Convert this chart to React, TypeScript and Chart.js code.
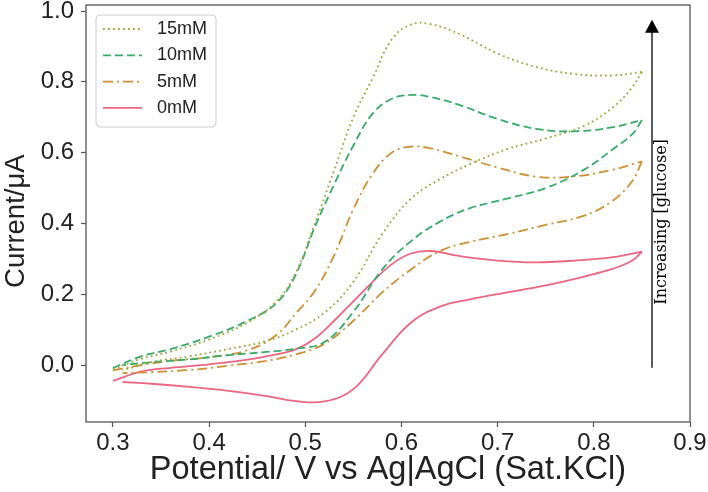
import React, { useEffect, useRef } from "react";
import { Chart, registerables } from "chart.js";

Chart.register(...registerables);

// potential grid (V) for forward and reverse scans
const fwdPotential = [0.3, 0.33, 0.36, 0.4, 0.44, 0.47, 0.49, 0.51, 0.53, 0.55, 0.57, 0.59, 0.61, 0.63, 0.66, 0.7, 0.74, 0.78, 0.82, 0.85];
const revPotential = [0.85, 0.84, 0.82, 0.79, 0.75, 0.71, 0.67, 0.64, 0.61, 0.58, 0.55, 0.52, 0.49, 0.46, 0.42, 0.38, 0.34, 0.31];

// current (uA) per glucose concentration
const fwd15 = [-0.012, 0.018, 0.038, 0.072, 0.12, 0.18, 0.26, 0.4, 0.55, 0.7, 0.81, 0.92, 0.962, 0.963, 0.935, 0.88, 0.842, 0.822, 0.818, 0.828];
const rev15 = [0.828, 0.785, 0.728, 0.676, 0.64, 0.61, 0.566, 0.525, 0.47, 0.37, 0.235, 0.148, 0.1, 0.068, 0.045, 0.025, 0.008, -0.015];
const fwd10 = [-0.008, 0.025, 0.045, 0.08, 0.125, 0.175, 0.255, 0.39, 0.51, 0.62, 0.71, 0.752, 0.763, 0.757, 0.735, 0.695, 0.667, 0.66, 0.672, 0.692];
const rev10 = [0.692, 0.652, 0.61, 0.552, 0.5, 0.47, 0.442, 0.405, 0.35, 0.27, 0.15, 0.065, 0.046, 0.037, 0.028, 0.016, 0.008, 0.0];
const fwd5 = [-0.015, 0.0, 0.012, 0.022, 0.042, 0.085, 0.145, 0.21, 0.31, 0.44, 0.54, 0.6, 0.617, 0.612, 0.59, 0.558, 0.532, 0.533, 0.552, 0.575];
const rev5 = [0.575, 0.52, 0.465, 0.422, 0.396, 0.37, 0.347, 0.322, 0.27, 0.205, 0.125, 0.06, 0.03, 0.012, -0.002, -0.014, -0.02, -0.023];
const fwd0 = [-0.045, -0.018, -0.008, 0.002, 0.015, 0.03, 0.044, 0.075, 0.125, 0.18, 0.235, 0.285, 0.315, 0.322, 0.308, 0.295, 0.29, 0.295, 0.305, 0.32];
const rev0 = [0.32, 0.295, 0.272, 0.25, 0.225, 0.205, 0.185, 0.165, 0.12, 0.03, -0.068, -0.103, -0.102, -0.088, -0.073, -0.062, -0.053, -0.048];

const seriesLabels = ["15mM", "10mM", "5mM", "0mM"];
const xTicks = [0.3, 0.4, 0.5, 0.6, 0.7, 0.8, 0.9];
const yTicks = [0.0, 0.2, 0.4, 0.6, 0.8, 1.0];

const xTitle = "Potential/ V vs Ag|AgCl (Sat.KCl)";
const yTitle = "Current/\u03bcA  ";
const arrowText = "Increasing [glucose]";
const arrowX = 0.8605;
const arrowFrom = -0.008;
const arrowTo = 0.975;

const sans = '"Liberation Sans", Arial, sans-serif';
const frameColor = "#555555";

const styles = [
  { color: "#9ca638", dash: [1.8, 3.2] },
  { color: "#36ac68", dash: [8, 4] },
  { color: "#d08f33", dash: [10, 4, 2, 4] },
  { color: "#eb6680", dash: [] as number[] },
];
const branches = [
  [fwd15, rev15],
  [fwd10, rev10],
  [fwd5, rev5],
  [fwd0, rev0],
];

const framePlugin = {
  id: "frame",
  afterDraw(chart: Chart) {
    const { ctx, chartArea: a } = chart;
    ctx.save();
    ctx.strokeStyle = frameColor;
    ctx.lineWidth = 1.3;
    ctx.strokeRect(a.left, a.top, a.right - a.left, a.bottom - a.top);
    ctx.restore();
  },
};

const arrowPlugin = {
  id: "arrow",
  afterDatasetsDraw(chart: Chart) {
    const { ctx } = chart;
    const xs = chart.scales.x;
    const ys = chart.scales.y;
    const ax = xs.getPixelForValue(arrowX);
    const y0 = ys.getPixelForValue(arrowFrom);
    const y1 = ys.getPixelForValue(arrowTo);
    ctx.save();
    ctx.strokeStyle = "#000";
    ctx.fillStyle = "#000";
    ctx.lineWidth = 1.3;
    ctx.beginPath();
    ctx.moveTo(ax, y0);
    ctx.lineTo(ax, y1 + 12);
    ctx.stroke();
    ctx.beginPath();
    ctx.moveTo(ax, y1);
    ctx.lineTo(ax - 7, y1 + 13);
    ctx.lineTo(ax + 7, y1 + 13);
    ctx.closePath();
    ctx.fill();
    // rotated label beside the arrow
    ctx.translate(ax + 9.5, (y0 + y1) / 2 + 28);
    ctx.rotate(-Math.PI / 2);
    ctx.font = '16px "DejaVu Serif", serif';
    ctx.textAlign = "center";
    ctx.textBaseline = "middle";
    ctx.fillText(arrowText, 0, 0);
    ctx.restore();
  },
};

const legendPlugin = {
  id: "boxLegend",
  afterDatasetsDraw(chart: Chart) {
    const { ctx, chartArea: a } = chart;
    const left = a.left + 10;
    const top = a.top + 10;
    ctx.save();
    ctx.beginPath();
    ctx.roundRect(left, top, 120, 112, 4);
    ctx.fillStyle = "rgba(255,255,255,0.85)";
    ctx.fill();
    ctx.strokeStyle = "#cccccc";
    ctx.lineWidth = 1;
    ctx.stroke();
    seriesLabels.forEach((label, i) => {
      const y = top + 14 + i * 26.3;
      ctx.beginPath();
      ctx.setLineDash(styles[i].dash);
      ctx.strokeStyle = styles[i].color;
      ctx.lineWidth = 1.8;
      ctx.moveTo(left + 7, y);
      ctx.lineTo(left + 46, y);
      ctx.stroke();
      ctx.setLineDash([]);
      ctx.fillStyle = "#222";
      ctx.font = `18px ${sans}`;
      ctx.textBaseline = "middle";
      ctx.fillText(label, left + 61, y);
    });
    ctx.restore();
  },
};

const App = () => {
  const canvasRef = useRef<HTMLCanvasElement>(null);

  useEffect(() => {
    document.body.style.margin = "0";
    if (!canvasRef.current) return;

    const datasets: any[] = [];
    branches.forEach(([fwd, rev], i) => {
      const common = {
        showLine: true,
        borderColor: styles[i].color,
        backgroundColor: styles[i].color,
        borderDash: styles[i].dash,
        borderWidth: 1.8,
        pointRadius: 0,
        tension: 0.4,
        fill: false,
      };
      datasets.push({ ...common, label: seriesLabels[i], data: fwdPotential.map((x, k) => ({ x, y: fwd[k] })) });
      datasets.push({ ...common, label: "", data: revPotential.map((x, k) => ({ x, y: rev[k] })) });
    });

    const chart = new Chart(canvasRef.current, {
      type: "scatter",
      data: { datasets },
      options: {
        animation: false,
        responsive: false,
        devicePixelRatio: 1,
        layout: { padding: { top: 5, right: 18, bottom: 0, left: 0 } },
        plugins: { legend: { display: false }, tooltip: { enabled: false } },
        scales: {
          x: {
            type: "linear",
            min: 0.272,
            max: 0.9,
            afterBuildTicks: (scale: any) => {
              scale.ticks = xTicks.map((value) => ({ value }));
            },
            afterFit: (scale: any) => {
              scale.height = 70;
              scale.paddingLeft = 0;
              scale.paddingRight = 0;
            },
            border: { display: false },
            grid: { drawOnChartArea: false, tickLength: 5, tickColor: frameColor, tickWidth: 1.2 },
            ticks: {
              autoSkip: false,
              maxRotation: 0,
              padding: 2,
              color: "#222",
              font: { family: sans, size: 24 },
              callback: (v: any) => Number(v).toFixed(1),
            },
            title: {
              display: true,
              text: xTitle,
              color: "#222",
              font: { family: sans, size: 32.5, lineHeight: 1.15 },
              padding: { top: 0, bottom: 3 },
            },
          },
          y: {
            type: "linear",
            min: -0.161,
            max: 1.017,
            afterBuildTicks: (scale: any) => {
              scale.ticks = yTicks.map((value) => ({ value }));
            },
            afterFit: (scale: any) => {
              scale.width = 86;
              scale.paddingTop = 0;
              scale.paddingBottom = 0;
            },
            border: { display: false },
            grid: { drawOnChartArea: false, tickLength: 5, tickColor: frameColor, tickWidth: 1.2 },
            ticks: {
              padding: 7,
              color: "#222",
              font: { family: sans, size: 24 },
              callback: (v: any) => Number(v).toFixed(1),
            },
            title: {
              display: true,
              text: yTitle,
              color: "#222",
              font: { family: sans, size: 27.5, lineHeight: 1.15 },
              padding: { top: 1, bottom: 0 },
            },
          },
        },
      },
      plugins: [arrowPlugin, legendPlugin, framePlugin],
    });

    return () => {
      chart.destroy();
    };
  }, []);

  return (
    <div style={{ width: 708, height: 492, background: "#fff" }}>
      <canvas ref={canvasRef} width={708} height={492} style={{ display: "block" }} />
    </div>
  );
};

export default App;
